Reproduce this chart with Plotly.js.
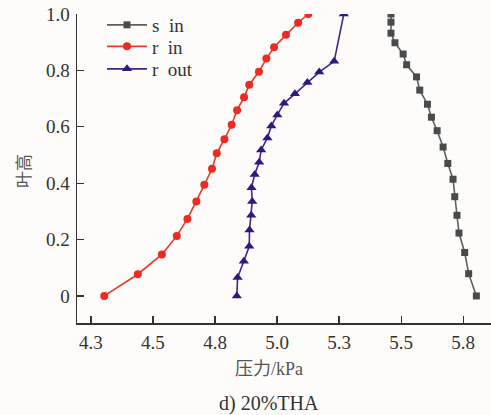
<!DOCTYPE html>
<html>
<head>
<meta charset="utf-8">
<script src="https://cdn.plot.ly/plotly-3.0.1.min.js"></script>
<style>html,body{margin:0;padding:0;background:#fdfcfb;}#chart{width:491px;height:415px;}</style>
</head>
<body>
<div id="chart"></div>
<script>
// s in (square, gray)
const sInX = [5.803, 5.772, 5.756, 5.733, 5.725, 5.716, 5.709, 5.688, 5.669, 5.645, 5.622, 5.606, 5.575, 5.562, 5.522, 5.508, 5.475, 5.459, 5.459, 5.459];
const sInY = [0.0, 0.079, 0.154, 0.223, 0.286, 0.352, 0.414, 0.470, 0.528, 0.586, 0.634, 0.680, 0.730, 0.777, 0.820, 0.858, 0.898, 0.932, 0.971, 1.0];
// r in (circle, red)
const rInX = [4.304, 4.439, 4.536, 4.596, 4.639, 4.675, 4.707, 4.738, 4.757, 4.788, 4.817, 4.839, 4.867, 4.888, 4.927, 4.957, 4.988, 5.036, 5.085, 5.126];
const rInY = [0.0, 0.077, 0.147, 0.213, 0.273, 0.335, 0.394, 0.451, 0.506, 0.556, 0.607, 0.659, 0.705, 0.749, 0.795, 0.842, 0.882, 0.926, 0.969, 1.0];
// r out (triangle, navy)
const rOutX = [4.838, 4.841, 4.866, 4.888, 4.889, 4.896, 4.900, 4.897, 4.910, 4.928, 4.936, 4.961, 4.977, 5.001, 5.028, 5.072, 5.122, 5.170, 5.230, 5.269];
const rOutY = [0.0, 0.065, 0.123, 0.176, 0.234, 0.286, 0.335, 0.384, 0.431, 0.474, 0.518, 0.560, 0.603, 0.642, 0.683, 0.717, 0.757, 0.794, 0.832, 1.0];

const seriesNames = ["s\u00a0\u00a0in", "r\u00a0\u00a0in", "r\u00a0\u00a0out"];
const xTickVals = [4.25, 4.5, 4.75, 5.0, 5.25, 5.5, 5.75];
const xTickText = ["4.3", "4.5", "4.8", "5.0", "5.3", "5.5", "5.8"];
const yTickVals = [0, 0.2, 0.4, 0.6, 0.8, 1.0];
const yTickText = ["0", "0.2", "0.4", "0.6", "0.8", "1.0"];
const xTitle = "压力/kPa";
const yTitle = "叶高";
const caption = "d) 20%THA";

const FONT = "Liberation Serif, Times New Roman, Noto Sans CJK SC, serif";
const L = 77, T = 14, W = 414, H = 309;
const px = v => (v - L) / W;
const py = v => (T + H - v) / H;

const traces = [
  {x: sInX, y: sInY, name: seriesNames[0], mode: "lines+markers", legend: "legend",
   line: {color: "#5e5e5e", width: 1.6},
   marker: {symbol: "square", size: 7, color: "#4a4a4a"}},
  {x: rInX, y: rInY, name: seriesNames[1], mode: "lines+markers", legend: "legend2",
   line: {color: "#f0362a", width: 1.6},
   marker: {symbol: "circle", size: 8, color: "#ee2a22"}},
  {x: rOutX, y: rOutY, name: seriesNames[2], mode: "lines+markers", legend: "legend3",
   line: {color: "#3a2a8c", width: 1.6},
   marker: {symbol: "triangle-up", size: 9, color: "#2c1a80"}}
];

const legFont = {family: FONT, size: 19, color: "#333"};
const legCommon = {xanchor: "left", yanchor: "middle", bgcolor: "rgba(0,0,0,0)",
                   font: legFont, itemwidth: 40};

const layout = {
  width: 491, height: 415,
  margin: {l: L, r: 0, t: T, b: 415 - T - H},
  paper_bgcolor: "#fdfcfb",
  plot_bgcolor: "#fdfcfb",
  font: {family: FONT, size: 19, color: "#333"},
  showlegend: true,
  legend: Object.assign({x: px(102), y: py(25)}, legCommon),
  legend2: Object.assign({x: px(102), y: py(46.5)}, legCommon),
  legend3: Object.assign({x: px(102), y: py(69)}, legCommon),
  xaxis: {range: [4.194, 5.862], showgrid: false, zeroline: false,
          showline: true, linecolor: "#333", linewidth: 1.5,
          ticks: "inside", ticklen: 7, tickwidth: 1.3, tickcolor: "#333",
          tickvals: xTickVals, ticktext: xTickText, ticklabelstandoff: 2,
          tickfont: {family: FONT, size: 19, color: "#333"}},
  yaxis: {range: [-0.096, 1.0], showgrid: false, zeroline: false,
          showline: true, linecolor: "#333", linewidth: 1.5,
          ticks: "inside", ticklen: 7, tickwidth: 1.3, tickcolor: "#333",
          tickvals: yTickVals, ticktext: yTickText, ticklabelstandoff: 2,
          tickfont: {family: FONT, size: 19, color: "#333"}},
  annotations: [
    {text: xTitle, xref: "paper", yref: "paper", x: px(268.5), y: py(369),
     xanchor: "center", yanchor: "middle", showarrow: false,
     font: {family: FONT, size: 18, color: "#555"}},
    {text: caption, xref: "paper", yref: "paper", x: px(269), y: py(403),
     xanchor: "center", yanchor: "middle", showarrow: false,
     font: {family: FONT, size: 20, color: "#333"}},
    {text: yTitle, xref: "paper", yref: "paper", x: px(24), y: py(171),
     xanchor: "center", yanchor: "middle", showarrow: false, textangle: -90,
     font: {family: FONT, size: 17, color: "#555"}}
  ]
};

Plotly.newPlot("chart", traces, layout, {staticPlot: true, displayModeBar: false});
</script>
</body>
</html>
